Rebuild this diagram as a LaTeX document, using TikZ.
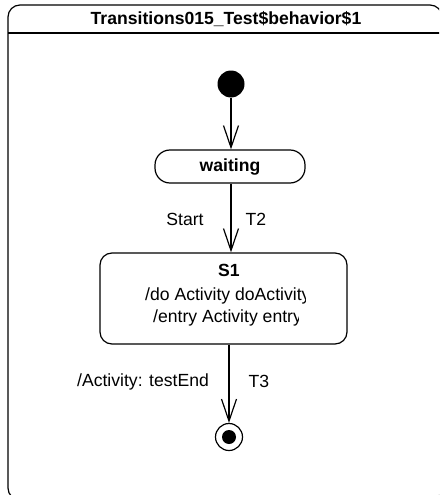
\documentclass[tikz,border=0pt]{standalone}
\usepackage{fontspec}
\setmainfont{Liberation Sans}
\usetikzlibrary{arrows.meta}

\tikzset{
    statebox/.style={draw, line width=1.2pt, rounded corners=12pt, align=center},
    flow/.style={-{Straight Barb[length=22pt, width=15pt, line width=1.2pt]}, line width=1.2pt},
    lbl/.style={font=\fontsize{17.6}{21}\selectfont}
}

\begin{document}
\begin{tikzpicture}[x=1pt, y=-1pt, font=\fontsize{17.6}{21}\selectfont]
        \useasboundingbox (0,0) rectangle (439,495);
        \clip (0,0) rectangle (439,495);

        % Frame with title bar
        \draw[line width=1.2pt, rounded corners=12pt] (8,5) rectangle (442,500);
        \draw[line width=1.2pt] (8,33) -- (442,33);
        \node[font=\fontsize{17.6}{21}\selectfont\bfseries] (title) at (226,19) {Transitions015\_Test\$behavior\$1};

        % States
        \node[circle, fill=black, minimum size=27pt, inner sep=0pt] (init) at (231,84) {};
        \node[statebox, rounded corners=15pt, minimum width=150pt, minimum height=33pt, font=\fontsize{17.6}{21}\selectfont\bfseries] (waiting) at (230,166.5) {waiting};
        \node[statebox, minimum width=247pt, minimum height=91pt] (s1) at (223.5,298.5) {};
        \node[font=\fontsize{17.6}{21}\selectfont\bfseries] (s1name) at (229,270) {S1};
        \begin{scope}
            \clip (100,285) rectangle (305.7,307);
            \node[anchor=west, inner sep=0pt] (s1do) at (145,296) {/do Activity doActivity};
        \end{scope}
        \begin{scope}
            \clip (100,307) rectangle (298.7,330);
            \node[anchor=west, inner sep=0pt] (s1entry) at (153,318) {/entry Activity entry};
        \end{scope}
        \node[circle, draw, line width=1.2pt, minimum size=27pt, inner sep=0pt] (final) at (229,437) {};
        \fill (final.center) circle (7pt);

        % Transitions
        \draw[flow] (init) -- (init |- waiting.north);
        \draw[flow] (waiting.south -| init) -- (init |- s1.north);
        \node[lbl] (start) at (185,219) {Start};
        \node[lbl] (t2) at (256,219) {T2};
        \draw[flow] (s1.south -| final) -- (final.north);
        \node[lbl] (effect) at (143,382) {/Activity: testEnd};
        \node[lbl] (t3) at (259,381) {T3};
    \end{tikzpicture}
\end{document}
